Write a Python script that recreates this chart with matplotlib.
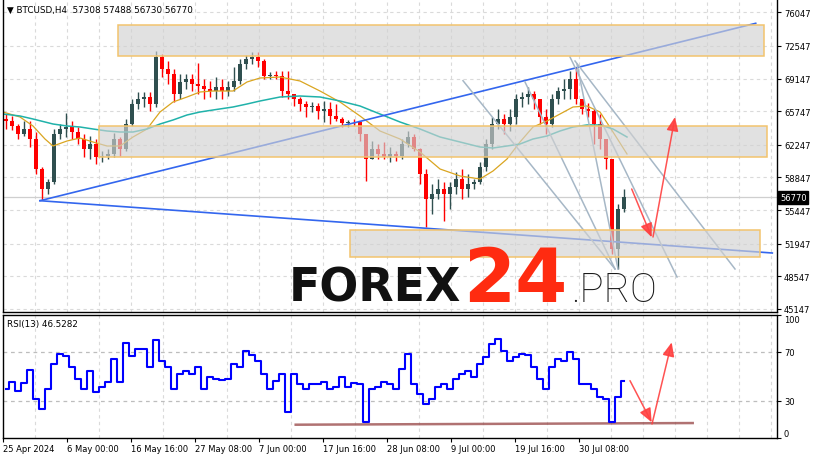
import numpy as np
import matplotlib.pyplot as plt
from matplotlib.patches import Rectangle
from matplotlib import transforms

plt.rcParams['font.family'] = 'DejaVu Sans'
plt.rcParams['font.size'] = 6

# daily candles built from H4 chart (6 bars each), bar 0 = 25 Apr 2024 08:00
close_ = np.array([64726, 64205, 63372, 63893, 62851, 59727, 57644, 58373, 63372, 63893,
                   64101, 63580, 62851, 61810, 62331, 60977, 61081, 61289, 62851, 61810,
                   64414, 66496, 67017, 67225, 66496, 71392, 70142, 69621, 67538, 68788,
                   69100, 68580, 68400, 68059, 67851, 68267, 67851, 68267, 68892, 70663,
                   71184, 71392, 70975, 69413, 69517, 69413, 67851, 67538, 67017, 66496,
                   66184, 66300, 65768, 65976, 65247, 64934, 64518, 64650, 64622, 63372,
                   60768, 61810, 61289, 60977, 61289, 61081, 62331, 63059, 61810, 59206,
                   56602, 57123, 57644, 57123, 57852, 58685, 57644, 58164, 58373, 59935,
                   62331, 64414, 64934, 64414, 65143, 67017, 67225, 67538, 67017, 65143,
                   64414, 67017, 67851, 68059, 69100, 67017, 65976, 65768, 64414, 62851,
                   60768, 51395, 55561, 56770])
high_ = np.array([65455, 65247, 64414, 64726, 64726, 63580, 59900, 58685, 63893, 64414,
                  65559, 64726, 64101, 63372, 63164, 62851, 61602, 61810, 63476, 63059,
                  64934, 67017, 67746, 67746, 67746, 72017, 71704, 70975, 70142, 69621,
                  69621, 69621, 70767, 69100, 68892, 69309, 69100, 68892, 70350, 71184,
                  71600, 71913, 71913, 71184, 69830, 69934, 69934, 69934, 67538, 67225,
                  66809, 66705, 66601, 66809, 66705, 66496, 65100, 64830, 64934, 64726,
                  63372, 62643, 62331, 62539, 62018, 61602, 62851, 63684, 63372, 61900,
                  59727, 58164, 58685, 58373, 58373, 59414, 59727, 59206, 58685, 60456,
                  62851, 65143, 65976, 65455, 65976, 67538, 67746, 68267, 67851, 67017,
                  65976, 67538, 68267, 69100, 69934, 70350, 67017, 66601, 66000, 65455,
                  62851, 60768, 56081, 57644])
low_ = np.array([63893, 63789, 62851, 63164, 62018, 59206, 56500, 57123, 58164, 62851,
                 63059, 62851, 62331, 60977, 60768, 60247, 60456, 60768, 60977, 61081,
                 61602, 64205, 65976, 66184, 65768, 66184, 69309, 68580, 66705, 67017,
                 68059, 67851, 67538, 67017, 67225, 67017, 67017, 67330, 67851, 68580,
                 70142, 70663, 70350, 69100, 69100, 69100, 67225, 67017, 66288, 65768,
                 65143, 65663, 64934, 64622, 64414, 64726, 64101, 64101, 64205, 62643,
                 58477, 60768, 60768, 60768, 60456, 60560, 60768, 62018, 61602, 58164,
                 53686, 55040, 56602, 54311, 55561, 57123, 56602, 56810, 57644, 58164,
                 59518, 61810, 63893, 63372, 63684, 64414, 66184, 66496, 65976, 64414,
                 63372, 64101, 66496, 67017, 67017, 66496, 65455, 65143, 62331, 61810,
                 59727, 50874, 49312, 55300])
open_ = np.concatenate([[64934], close_[:-1]])

rsi = np.array([39.8, 45.5, 38.2, 44.7, 55.0, 31.6, 23.5, 39.8, 60.2, 68.4,
                66.7, 57.8, 48.0, 39.8, 54.5, 37.3, 41.4, 45.5, 64.3, 45.5,
                77.0, 66.7, 72.4, 72.4, 57.8, 80.0, 62.7, 57.8, 39.8, 52.0,
                54.5, 52.0, 57.8, 39.8, 49.6, 48.0, 47.1, 48.0, 60.2, 57.8,
                70.8, 67.6, 62.7, 52.0, 39.8, 46.3, 52.0, 21.0, 52.0, 43.9,
                39.8, 43.9, 43.9, 45.5, 39.8, 41.4, 49.6, 41.4, 44.7, 43.9,
                13.0, 39.8, 41.4, 45.5, 43.9, 39.8, 56.1, 68.4, 43.9, 35.7,
                27.6, 31.6, 41.4, 43.9, 39.8, 48.0, 52.0, 54.5, 49.6, 60.2,
                65.9, 76.5, 80.6, 70.8, 62.7, 65.9, 68.4, 67.6, 57.8, 48.0,
                39.8, 57.8, 64.3, 62.7, 70.0, 64.3, 43.9, 43.9, 39.8, 33.3,
                31.6, 13.0, 33.3, 46.5])

# moving averages
ma_bars = [0, 17, 30, 42, 50, 64, 77, 90, 104, 117, 130, 144, 157, 170, 184, 197, 210, 230, 244, 257, 277,
           297, 317, 337, 357, 377, 397, 417, 437, 457, 477, 490, 504, 517, 530, 544, 557, 570, 584, 597, 610, 624]
ma_fast = [65663, 65142, 64205, 62851, 62122, 62643, 62955, 62539, 62122, 62122, 63059, 63893, 65663, 66704,
           67225, 67746, 67850, 67850, 68787, 69204, 69308, 68892, 67850, 66704, 65247, 63684, 62851, 61497,
           59727, 59000, 58685, 59518, 60768, 62539, 64101, 64726, 65455, 66184, 66288, 65663, 63580, 61289]
ma_slow = [65455, 65247, 64934, 64622, 64413, 64205, 64101, 63893, 63684, 63580, 63580, 63893, 64413, 64830,
           65351, 65663, 65872, 66184, 66496, 66809, 67225, 67329, 67225, 66809, 66288, 65455, 64622, 63893,
           63059, 62539, 62018, 61914, 62122, 62331, 62851, 63164, 63684, 64101, 64309, 64309, 63893, 63059]

last_price = 56770
price_ticks = [76047, 72547, 69147, 65747, 62247, 58847, 55447, 51947, 48547, 45147]
time_ticks = [0, 64, 128, 192, 256, 320, 384, 448, 512, 576]
time_labels = ['25 Apr 2024', '6 May 00:00', '16 May 16:00', '27 May 08:00', '7 Jun 00:00',
               '17 Jun 16:00', '28 Jun 08:00', '9 Jul 00:00', '19 Jul 16:00', '30 Jul 08:00']

# drawings
zone_x0 = [115, 96, 347]
zone_x1 = [761, 764, 757]
zone_lo = [71464, 60944, 50530]
zone_hi = [74776, 64174, 53373]
blue_lines = [((37, 56425), (752.7, 74901)), ((37, 56425), (769.3, 50978))]
gray_lines = [((460, 68923), (612, 49312)), ((522, 68788), (612, 49312)),
              ((574, 70662), (615, 49312)), ((567, 71391), (674, 48478)),
              ((572, 70975), (732, 49312))]
price_arrows = [((628.7, 57644), (648.7, 52613)), ((650, 52644), (672, 65142))]
rsi_arrows = [((627, 46.6), (648.7, 12.6)), ((649, 11.2), (668.7, 77.9))]
rsi_support = ([292.7, 689.7], [10.65, 12.0])

W, H = 818, 460
fig = plt.figure(figsize=(W / 100, H / 100), dpi=100)


def px_axes(l, t, r, b):
    return fig.add_axes([l / W, 1 - b / H, (r - l) / W, (b - t) / H])


ax = px_axes(3, 0, 777, 313)
ax2 = px_axes(3, 316.25, 777, 438.75)

grid_kw = dict(color='#dadada', linestyle=(0, (3, 3)), linewidth=0.8)
for a in (ax, ax2):
    a.set_xlim(0, 774)
    for s in a.spines.values():
        s.set_color('black')
        s.set_linewidth(1)
    a.yaxis.tick_right()
    a.tick_params(axis='y', direction='out', length=3, pad=2, labelsize=6)
    a.set_xticks(np.arange(32, 774, 32), minor=True)
    a.grid(which='minor', axis='x', **grid_kw)
    a.tick_params(axis='x', which='minor', length=0)
    a.set_axisbelow(True)
ax.spines['top'].set_visible(False)

# main panel
ax.set_ylim(44833, 77432)
ax.set_yticks(price_ticks)
ax.set_xticks([])
ax.grid(which='major', axis='y', **grid_kw)
ax.axhline(last_price, color='#cfcfcf', lw=0.9, zorder=1)

x = np.arange(len(close_)) * 6 + 3
col = np.where(close_ >= open_, '#2f4f4f', '#ff0000')
ax.vlines(x, low_, high_, colors=col, lw=1, zorder=2)
ax.bar(x, np.abs(close_ - open_), bottom=np.minimum(open_, close_), width=4.2,
       color=col, linewidth=0, zorder=2)

ax.plot(ma_bars, ma_fast, color='#daa520', lw=0.9, zorder=2)
ax.plot(ma_bars, ma_slow, color='#20b2aa', lw=1.1, zorder=2)

for (x0, y0), (x1, y1) in blue_lines:
    ax.plot([x0, x1], [y0, y1], color='#3366ee', lw=1.2, zorder=2)
for (x0, y0), (x1, y1) in gray_lines:
    ax.plot([x0, x1], [y0, y1], color='#a6b7c6', lw=1.1, zorder=2)

for x0, x1, lo, hi in zip(zone_x0, zone_x1, zone_lo, zone_hi):
    ax.add_patch(Rectangle((x0, lo), x1 - x0, hi - lo, facecolor=(0.82, 0.82, 0.82, 0.65),
                           edgecolor='#f2c46d', lw=1.1, zorder=3))

arrow_kw = dict(arrowstyle='-|>,head_length=0.7,head_width=0.3', color='#ff4040', lw=1.1,
                shrinkA=0, shrinkB=0, mutation_scale=12, alpha=0.9)
for start, tip in price_arrows:
    ax.annotate('', xy=tip, xytext=start, arrowprops=arrow_kw, zorder=6)

ax.text(1.004, last_price, str(last_price), transform=transforms.blended_transform_factory(ax.transAxes, ax.transData),
        color='white', fontsize=6, va='center', ha='left',
        bbox=dict(facecolor='black', edgecolor='black', pad=1.2))

# watermark
wm_y = 1 - 302 / H
ax.text(289 / W, wm_y, 'FOREX', transform=fig.transFigure, fontsize=33, fontweight='bold',
        family='DejaVu Sans', color='#111111', va='baseline', zorder=4)
ax.text(463 / W, wm_y, '24', transform=fig.transFigure, fontsize=54, fontweight='bold',
        family='DejaVu Sans', color='#ff2b10', va='baseline', zorder=4)
ax.text(571 / W, wm_y, '.PRO', transform=fig.transFigure, fontsize=29, fontweight='light',
        family=['Roboto', 'DejaVu Sans'], color='#1a1a1a', va='baseline', zorder=4)

# RSI panel
ax2.set_ylim(0, 100)
ax2.set_yticks([100, 70, 30, 0])
ax2.set_yticklabels(['100', '70', '30', '0'])
lbls = ax2.get_yticklabels()
lbls[0].set_va('top')
lbls[3].set_va('bottom')
for lvl in (70, 30):
    ax2.axhline(lvl, color='#bdbdbd', linestyle=(0, (3, 3)), lw=0.9, zorder=1)
ax2.step(x, rsi, where='mid', color='#0000ff', lw=1.5, zorder=3)
ax2.plot(rsi_support[0], rsi_support[1], color='#9c4f4f', lw=1.8, alpha=0.8, zorder=2)
for start, tip in rsi_arrows:
    ax2.annotate('', xy=tip, xytext=start, arrowprops=arrow_kw, zorder=6)
ax2.text(4 / 774, 1 - 8 / 122.5, 'RSI(13) 46.5282', transform=ax2.transAxes, va='center', fontsize=6.3)

ax2.set_xticks(time_ticks)
ax2.set_xticklabels(time_labels)
ax2.tick_params(axis='x', which='major', direction='out', length=3, pad=1.5, labelsize=6)
for lbl in ax2.get_xticklabels():
    lbl.set_ha('left')

fig.text(7 / W, 1 - 10 / H, '\u25bc BTCUSD,H4  57308 57488 56730 56770', fontsize=6.3, va='center')

plt.savefig('out.png', dpi=100)
